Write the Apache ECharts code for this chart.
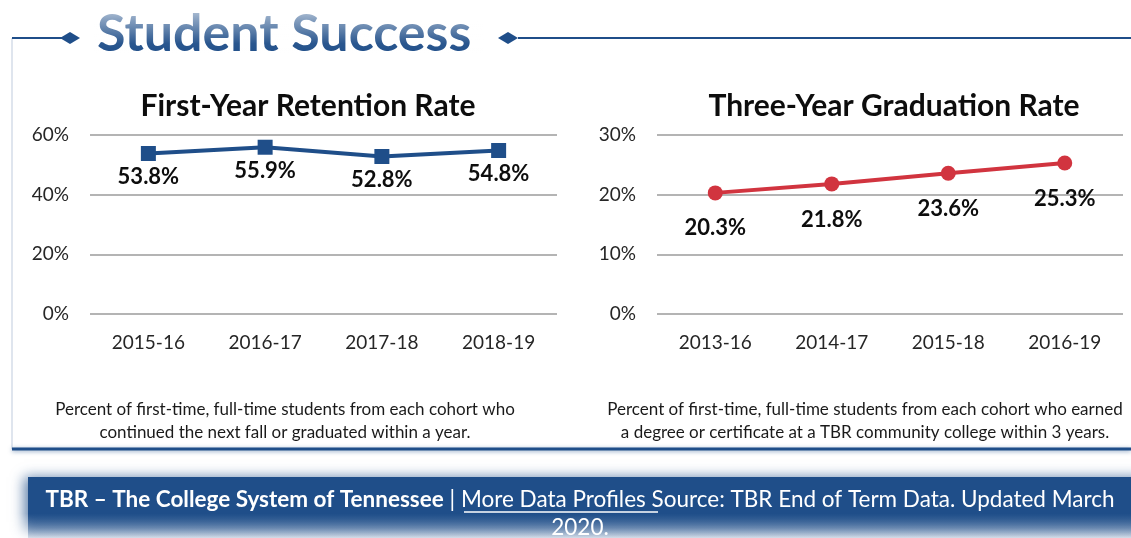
<!DOCTYPE html>
<html lang="en">
<head>
    <meta charset="UTF-8">
    <title>Student Success</title>
    <script src="https://cdn.jsdelivr.net/npm/echarts@6/dist/echarts.min.js"></script>
    <style>
        html, body { margin: 0; padding: 0; background: #fff; }
    </style>
</head>
<body>
    <div id="ec" style="width:1131px;height:538px"></div>
</body>
<script>
    // data
    var retentionYears = ['2015-16', '2016-17', '2017-18', '2018-19']
    var retentionRate = [53.8, 55.9, 52.8, 54.8]
    var gradYears = ['2013-16', '2014-17', '2015-18', '2016-19']
    var gradRate = [20.3, 21.8, 23.6, 25.3]

    var blue = '#1f4e89'
    var red = '#d1343f'
    var font = 'Lato'

    var mychart = echarts.init(document.getElementById('ec'))

    function axisX(idx, cats) {
        return {
            type: 'category', gridIndex: idx, data: cats,
            axisLine: { show: false }, axisTick: { show: false },
            axisLabel: { fontFamily: font, fontSize: 19, color: '#262626', margin: 19 }
        }
    }
    function axisY(idx, max, step) {
        return {
            type: 'value', gridIndex: idx, min: 0, max: max, interval: step,
            axisLabel: { fontFamily: font, fontSize: 19, color: '#262626', margin: 21, formatter: '{value}%' },
            splitLine: { lineStyle: { color: '#b4b4b4', width: 2 } }
        }
    }

    var capFont = '17px Lato'

    var options = {
        animation: false,
        title: [
            { text: 'First-Year Retention Rate', left: 303, top: 86, textAlign: 'center',
              textStyle: { fontFamily: font, fontSize: 30, fontWeight: 'bold', color: '#0d0d0d' } },
            { text: 'Three-Year Graduation Rate', left: 889, top: 86, textAlign: 'center',
              textStyle: { fontFamily: font, fontSize: 30, fontWeight: 'bold', color: '#0d0d0d' } }
        ],
        grid: [
            { left: 90, width: 467, top: 135, height: 179 },
            { left: 657, width: 466, top: 135, height: 179 }
        ],
        xAxis: [axisX(0, retentionYears), axisX(1, gradYears)],
        yAxis: [axisY(0, 60, 20), axisY(1, 30, 10)],
        series: [
            {
                type: 'line', xAxisIndex: 0, yAxisIndex: 0, data: retentionRate,
                symbol: 'rect', symbolSize: 15,
                lineStyle: { color: blue, width: 4 },
                itemStyle: { color: blue },
                label: { show: true, position: 'bottom', distance: 5, formatter: '{c}%',
                         fontFamily: font, fontSize: 22, fontWeight: 'bold', color: '#0d0d0d' }
            },
            {
                type: 'line', xAxisIndex: 1, yAxisIndex: 1, data: gradRate,
                symbol: 'circle', symbolSize: 15,
                lineStyle: { color: red, width: 4 },
                itemStyle: { color: red },
                label: { show: true, position: 'bottom', distance: 17, formatter: '{c}%',
                         fontFamily: font, fontSize: 22, fontWeight: 'bold', color: '#0d0d0d' }
            }
        ],
        graphic: [
            // frame
            { type: 'line', shape: { x1: 12, y1: 38, x2: 12, y2: 449 }, style: { stroke: '#dfe5ee', lineWidth: 2 } },
            { type: 'line', shape: { x1: 12, y1: 38, x2: 62, y2: 38 }, style: { stroke: blue, lineWidth: 2 } },
            { type: 'line', shape: { x1: 518, y1: 38, x2: 1131, y2: 38 }, style: { stroke: blue, lineWidth: 2 } },
            { type: 'polygon', shape: { points: [[60, 38], [70, 32], [80, 38], [70, 44]] }, style: { fill: blue } },
            { type: 'polygon', shape: { points: [[498, 38], [508, 32], [518, 38], [508, 44]] }, style: { fill: blue } },
            { type: 'line', shape: { x1: 12, y1: 449, x2: 1131, y2: 449 },
              style: { stroke: blue, lineWidth: 3, shadowBlur: 4, shadowColor: 'rgba(31,78,137,0.5)', shadowOffsetY: 1 } },
            {
                type: 'text', x: 97, y: 8,
                style: { text: 'Student Success', font: 'bold 52px Lato', fill: blue, verticalAlign: 'top' }
            },
            // light wash on the upper part of the heading
            {
                type: 'rect', shape: { x: 94, y: 0, width: 390, height: 58 }, silent: true,
                style: {
                    fill: new echarts.graphic.LinearGradient(0, 0, 0, 1, [
                        { offset: 0, color: 'rgba(255,255,255,0.85)' },
                        { offset: 0.35, color: 'rgba(255,255,255,0.45)' },
                        { offset: 0.75, color: 'rgba(255,255,255,0.05)' },
                        { offset: 1, color: 'rgba(255,255,255,0)' }
                    ])
                }
            },
            // captions
            { type: 'text', x: 285, y: 410, style: { text: 'Percent of first-time, full-time students from each cohort who',
              font: capFont, fill: '#1a1a1a', align: 'center', verticalAlign: 'middle' } },
            { type: 'text', x: 285, y: 433, style: { text: 'continued the next fall or graduated within a year.',
              font: capFont, fill: '#1a1a1a', align: 'center', verticalAlign: 'middle' } },
            { type: 'text', x: 865, y: 410, style: { text: 'Percent of first-time, full-time students from each cohort who earned',
              font: capFont, fill: '#1a1a1a', align: 'center', verticalAlign: 'middle' } },
            { type: 'text', x: 865, y: 433, style: { text: 'a degree or certificate at a TBR community college within 3 years.',
              font: capFont, fill: '#1a1a1a', align: 'center', verticalAlign: 'middle' } },
            // footer band
            { type: 'rect', shape: { x: 28, y: 477, width: 1120, height: 61 },
              style: {
                  fill: new echarts.graphic.LinearGradient(0, 0, 0, 1, [
                      { offset: 0, color: blue },
                      { offset: 0.6, color: blue },
                      { offset: 1, color: 'rgba(31,78,137,0.15)' }
                  ]),
                  shadowBlur: 12, shadowColor: 'rgba(31,78,137,0.7)', shadowOffsetX: -4
              } },
            {
                type: 'text', x: 580, y: 500,
                style: {
                    rich: {
                        b: { font: 'bold 22.5px Lato', fill: '#fff' },
                        n: { font: '22.5px Lato', fill: '#fff' }
                    },
                    text: '{b|TBR \u2013 The College System of Tennessee}{n| | More Data Profiles Source: TBR End of Term Data. Updated March}',
                    align: 'center', verticalAlign: 'middle'
                }
            },
            { type: 'line', shape: { x1: 464, y1: 512, x2: 658, y2: 512 }, style: { stroke: '#fff', lineWidth: 1.5 } },
            { type: 'text', x: 580, y: 528, style: { text: '2020.', font: '22.5px Lato', fill: '#fff', align: 'center', verticalAlign: 'middle' } }
        ]
    }
    mychart.setOption(options)
</script>
</html>
